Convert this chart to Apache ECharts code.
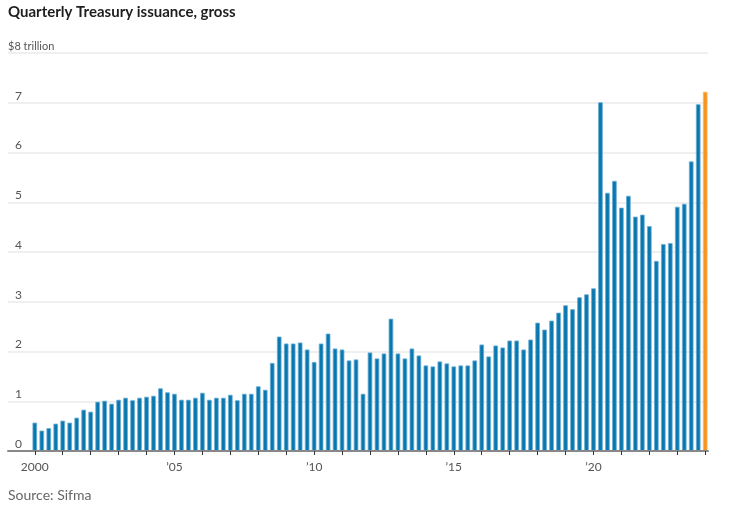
<!DOCTYPE html>
<html>
<head>
    <meta charset="UTF-8">
    <title>Quarterly Treasury issuance, gross</title>
    <script src="https://cdn.jsdelivr.net/npm/echarts@6/dist/echarts.min.js"></script>
</head>
<body style="margin: 0; padding: 0; background: #fff;">
    <div id="container" style="width: 756px; height: 506px;"></div>
    <script>
        // quarterly gross issuance, $ trillion, 2000 Q1 .. 2024 Q1 (last one highlighted)
        var startYear = 2000;
        var issuance = [
            0.57, 0.41, 0.46, 0.55,   // 2000
            0.61, 0.57, 0.67, 0.83,   // 2001
            0.79, 0.99, 1.01, 0.95,   // 2002
            1.03, 1.07, 1.02, 1.07,   // 2003
            1.09, 1.11, 1.26, 1.18,   // 2004
            1.15, 1.03, 1.03, 1.07,   // 2005
            1.17, 1.03, 1.07, 1.07,   // 2006
            1.13, 1.02, 1.15, 1.15,   // 2007
            1.30, 1.23, 1.77, 2.30,   // 2008
            2.16, 2.16, 2.18, 2.04,   // 2009
            1.79, 2.16, 2.36, 2.06,   // 2010
            2.04, 1.82, 1.84, 1.15,   // 2011
            1.98, 1.86, 1.96, 2.66,   // 2012
            1.96, 1.86, 2.06, 1.92,   // 2013
            1.72, 1.70, 1.80, 1.76,   // 2014
            1.70, 1.72, 1.72, 1.82,   // 2015
            2.14, 1.90, 2.12, 2.08,   // 2016
            2.22, 2.22, 2.04, 2.24,   // 2017
            2.58, 2.44, 2.62, 2.78,   // 2018
            2.93, 2.85, 3.09, 3.15,   // 2019
            3.27, 7.01, 5.19, 5.43,   // 2020
            4.89, 5.13, 4.71, 4.75,   // 2021
            4.52, 3.82, 4.16, 4.18,   // 2022
            4.91, 4.97, 5.82, 6.97,   // 2023
            7.22                      // 2024
        ];
        var yTicks = [0, 1, 2, 3, 4, 5, 6, 7, 8];

        var quarters = issuance.map(function (v, i) {
            return (startYear + Math.floor(i / 4)) + ' Q' + (i % 4 + 1);
        });

        function yearLabel(q) {
            var y = q.slice(0, 4);
            return y === '2000' ? y : '\u2019' + y.slice(2);
        }

        var font = 'Lato, "Noto Sans", sans-serif';
        var chart = echarts.init(document.getElementById('container'), null, { renderer: 'canvas' });

        var option = {
            animation: false,
            title: [{
                text: 'Quarterly Treasury issuance, gross',
                left: 8, top: 5, padding: 0,
                textStyle: { fontFamily: font, fontSize: 15, fontWeight: 'bold', color: '#1e1e1e' }
            }, {
                text: 'Source: Sifma',
                left: 8, top: 488, padding: 0,
                textStyle: { fontFamily: font, fontSize: 14, fontWeight: 'normal', color: '#666' }
            }],
            // grid 0: gridlines, y labels and baseline; grid 1: the bars
            grid: [
                { left: 8, right: 48, top: 53, bottom: 55 },
                { left: 31.3, right: 47.3, top: 53, bottom: 55 }
            ],
            xAxis: [{
                gridIndex: 0, type: 'value', min: 0, max: 1, z: 5,
                axisLine: { show: true, lineStyle: { color: '#888', width: 2 } },
                axisTick: { show: false }, axisLabel: { show: false }, splitLine: { show: false }
            }, {
                gridIndex: 1, type: 'category', data: quarters, boundaryGap: true, z: 6,
                axisLine: { show: false },
                axisTick: {
                    show: true, alignWithLabel: true, length: 4,
                    interval: function (i) { return i % 4 === 0; },
                    lineStyle: { color: '#333', width: 1 }
                },
                axisLabel: {
                    interval: function (i) { return i % 20 === 0; },
                    formatter: yearLabel,
                    margin: 10, fontFamily: font, fontSize: 12, color: '#555'
                }
            }],
            yAxis: [{
                gridIndex: 0, type: 'value', min: 0, max: 8, interval: 1,
                axisLine: { show: false }, axisTick: { show: false },
                splitLine: { show: true, lineStyle: { color: '#efefef', width: 2 } },
                axisLabel: {
                    inside: true, margin: 0, verticalAlign: 'bottom',
                    formatter: function (v) {
                        return v === yTicks[yTicks.length - 1] ? '{t|$' + v + ' trillion}' : '{n|' + v + '}';
                    },
                    rich: {
                        t: { fontFamily: font, fontSize: 11, color: '#555', padding: [0, 0, 1, 0] },
                        n: { fontFamily: font, fontSize: 12, color: '#555', padding: [0, 0, 1, 7] }
                    }
                }
            }, {
                gridIndex: 1, type: 'value', min: 0, max: 8, show: false,
                splitLine: { show: false }
            }],
            series: [{
                type: 'bar',
                xAxisIndex: 1, yAxisIndex: 1,
                barWidth: 4.6,
                itemStyle: { color: '#0a78b0', borderColor: '#6cafd4', borderWidth: 0.8 },
                data: issuance.map(function (v, i) {
                    if (i === issuance.length - 1) {
                        return { value: v, itemStyle: { color: '#f7941d', borderColor: '#fbb861' } };
                    }
                    return v;
                })
            }]
        };
        chart.setOption(option);
    </script>
</body>
</html>
